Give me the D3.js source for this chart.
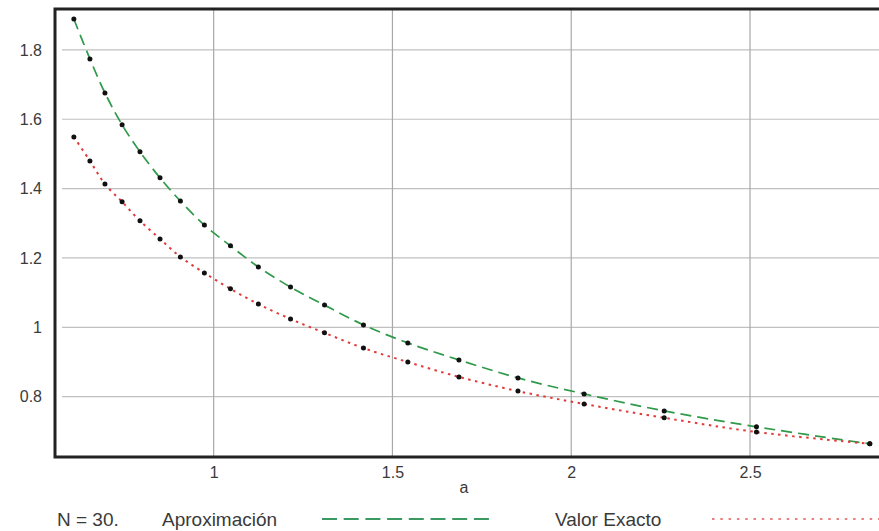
<!DOCTYPE html>
<html>
<head>
<meta charset="utf-8">
<script src="https://cdn.jsdelivr.net/npm/d3@7"></script>
<style>
  html, body { margin: 0; padding: 0; background: #fff; }
  svg { display: block; }
  text { font-family: "Liberation Sans", Arial, Helvetica, sans-serif; }
</style>
</head>
<body>
<svg id="chart" width="879" height="531"></svg>
<script>
// Sample points of the parameter a
const aValues = [0.609, 0.654, 0.696, 0.744, 0.794, 0.850, 0.907, 0.974, 1.047, 1.125,
                 1.215, 1.310, 1.419, 1.543, 1.686, 1.851, 2.036, 2.260, 2.518, 2.835];
// Approximation (green dashed)
const aproximacion = [1.889, 1.774, 1.676, 1.584, 1.506, 1.431, 1.364, 1.295, 1.235, 1.174,
                      1.116, 1.064, 1.007, 0.955, 0.906, 0.854, 0.808, 0.759, 0.713, 0.664];
// Exact value (red dotted)
const valorExacto = [1.549, 1.480, 1.413, 1.362, 1.307, 1.255, 1.203, 1.157, 1.111, 1.067,
                     1.024, 0.984, 0.940, 0.900, 0.857, 0.816, 0.779, 0.739, 0.698, 0.664];
const xTicks = [1, 1.5, 2, 2.5];
const yTicks = [0.8, 1, 1.2, 1.4, 1.6, 1.8];
const xLabel = "a";
const legendNote = "N = 30.";
const seriesNames = ["Aproximación", "Valor Exacto"];

const svg = d3.select("#chart");
const plotLeft = 55, plotTop = 9, plotBottom = 457, plotRight = 884;

const x = d3.scaleLinear().domain([0.5563, 2.8747]).range([plotLeft, plotRight]);
const y = d3.scaleLinear().domain([0.626, 1.918]).range([plotBottom, plotTop]);

const fmt = d => (Math.round(d * 10) / 10).toString();

// grid
const grid = svg.append("g");
grid.selectAll("line.h").data(yTicks).join("line")
  .attr("x1", plotLeft + 7).attr("x2", plotRight)
  .attr("y1", d => y(d)).attr("y2", d => y(d))
  .attr("stroke", "#c0c0c0").attr("stroke-width", 1.2);
grid.selectAll("line.v").data(xTicks).join("line")
  .attr("x1", d => x(d)).attr("x2", d => x(d))
  .attr("y1", plotTop).attr("y2", plotBottom)
  .attr("stroke", "#a8a8a8").attr("stroke-width", 1.2);

// axes
const yAxis = d3.axisLeft(y).tickValues(yTicks).tickFormat(fmt).tickSize(0).tickPadding(13);
const gy = svg.append("g").attr("transform", `translate(${plotLeft},0)`).call(yAxis);
gy.select(".domain").remove();
gy.selectAll("text").attr("font-size", 16).attr("fill", "#3a3a3a")
  .attr("font-family", "Liberation Sans, Arial, sans-serif");

const xAxis = d3.axisBottom(x).tickValues(xTicks).tickFormat(fmt).tickSize(0).tickPadding(10);
const gx = svg.append("g").attr("transform", `translate(0,${plotBottom})`).call(xAxis);
gx.select(".domain").remove();
gx.selectAll("text").attr("font-size", 16).attr("fill", "#3a3a3a")
  .attr("font-family", "Liberation Sans, Arial, sans-serif");

svg.append("text").attr("x", x(1.7)).attr("y", 493)
  .attr("text-anchor", "middle").attr("font-size", 16).attr("fill", "#3a3a3a")
  .text(xLabel);

// frame: left, top, bottom
const frame = svg.append("g").attr("stroke", "#222").attr("stroke-width", 3).attr("fill", "none");
frame.append("path").attr("d", `M${plotRight},${plotTop} H${plotLeft} V${plotBottom} H${plotRight}`);

// curves
const line = d3.line().x(d => x(d[0])).y(d => y(d[1])).curve(d3.curveCatmullRom);
const approxPts = aValues.map((a, i) => [a, aproximacion[i]]);
const exactPts = aValues.map((a, i) => [a, valorExacto[i]]);

svg.append("path").datum(approxPts).attr("d", line)
  .attr("fill", "none").attr("stroke", "#2f9a4a").attr("stroke-width", 1.7)
  .attr("stroke-dasharray", "11,6");
svg.append("path").datum(exactPts).attr("d", line)
  .attr("fill", "none").attr("stroke", "#e03a3a").attr("stroke-width", 2)
  .attr("stroke-dasharray", "2.5,4.5");

// sample markers
[approxPts, exactPts].forEach(pts => {
  svg.append("g").selectAll("circle").data(pts).join("circle")
    .attr("cx", d => x(d[0])).attr("cy", d => y(d[1])).attr("r", 2.5)
    .attr("fill", "#111");
});

// legend
const lg = svg.append("g").attr("font-size", 19).attr("fill", "#3a3a3a");
lg.append("text").attr("x", 57).attr("y", 526).text(legendNote);
lg.append("text").attr("x", 162).attr("y", 526).text(seriesNames[0]);
lg.append("line").attr("x1", 322).attr("x2", 492).attr("y1", 519).attr("y2", 519)
  .attr("stroke", "#3a9a62").attr("stroke-width", 2).attr("stroke-dasharray", "15,6.7");
lg.append("text").attr("x", 555).attr("y", 526).text(seriesNames[1]);
lg.append("line").attr("x1", 712).attr("x2", 879).attr("y1", 519).attr("y2", 519)
  .attr("stroke", "#ec7f7f").attr("stroke-width", 2).attr("stroke-dasharray", "2.5,5.8");
</script>
</body>
</html>
